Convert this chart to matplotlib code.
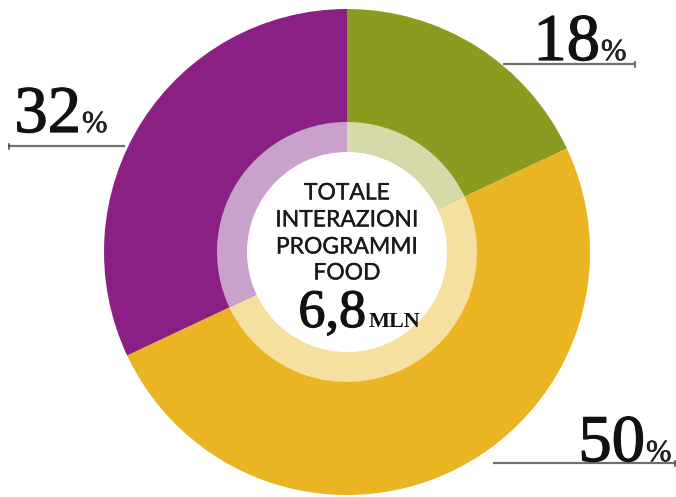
import matplotlib
matplotlib.use("Agg")
import matplotlib.pyplot as plt
import matplotlib.patheffects as pe

# dati
quote = [18, 50, 32]
etichette = ["18", "50", "32"]
colori = ["#8C9A1F", "#EBB423", "#8A2083"]
colori_chiari = ["#D5DAA8", "#F6E0A0", "#C9A2CB"]
righe_centro = ["TOTALE", "INTERAZIONI", "PROGRAMMI", "FOOD"]
totale = "6,8"
unita = "MLN"

W, H = 676, 497
cx, cy = 347, 245
R = 243
r_chiaro = 130
r_bianco = 100

fig = plt.figure(figsize=(W / 100, H / 100), dpi=100)
ax = fig.add_axes([0, 0, 1, 1])

ax.pie(quote, colors=colori, startangle=90, counterclock=False,
       center=(cx, cy), radius=R, wedgeprops=dict(linewidth=0, antialiased=True))
ax.pie(quote, colors=colori_chiari, startangle=90, counterclock=False,
       center=(cx, cy), radius=r_chiaro, wedgeprops=dict(linewidth=0, antialiased=True))
ax.add_patch(plt.Circle((cx, cy), r_bianco, color="white", lw=0))

ax.set_xlim(0, W)
ax.set_ylim(0, H)
ax.set_aspect("equal")
ax.axis("off")

serif = "Liberation Serif"
linea = "#707070"
spesso = [pe.withStroke(linewidth=0.9, foreground="#111111")]
medio = [pe.withStroke(linewidth=0.5, foreground="#222222")]
fine = [pe.withStroke(linewidth=0.25, foreground="#1a1a1a")]

# etichette percentuali: (x fine numero, y base, linea x0, x1, y, cap)
pos = {
    "18": (600, 437, 503, 635, 433, 635),
    "50": (645, 36, 493, 676, 34, 675),
    "32": (81, 365, 8, 125, 351, 9),
}
for lab in etichette:
    xn, yb, x0, x1, yl, xc = pos[lab]
    ax.text(xn, yb, lab, fontsize=48, family=serif, ha="right", va="baseline",
            color="#111111", path_effects=spesso)
    ax.text(xn + 1, yb, "%", fontsize=22, family=serif, ha="left", va="baseline",
            color="#222222", path_effects=medio)
    ax.plot([x0, x1], [yl, yl], color=linea, lw=1.6, solid_capstyle="butt")
    ax.plot([xc, xc], [yl - 2.5, yl + 2.5], color="#555555", lw=1.2)

# testo centrale
ys = [304, 277, 250, 224]
for t, y in zip(righe_centro, ys):
    ax.text(cx, y, t, fontsize=16.5, family="Lato", ha="center", va="center",
            color="#1a1a1a", path_effects=fine)

ax.text(366, 170, totale, fontsize=39, family=serif, ha="right", va="baseline",
        color="#111111", path_effects=spesso)
ax.text(369, 170, unita, fontsize=16, family=serif, fontweight="bold", ha="left",
        va="baseline", color="#111111")

fig.savefig("out.png", dpi=100)
